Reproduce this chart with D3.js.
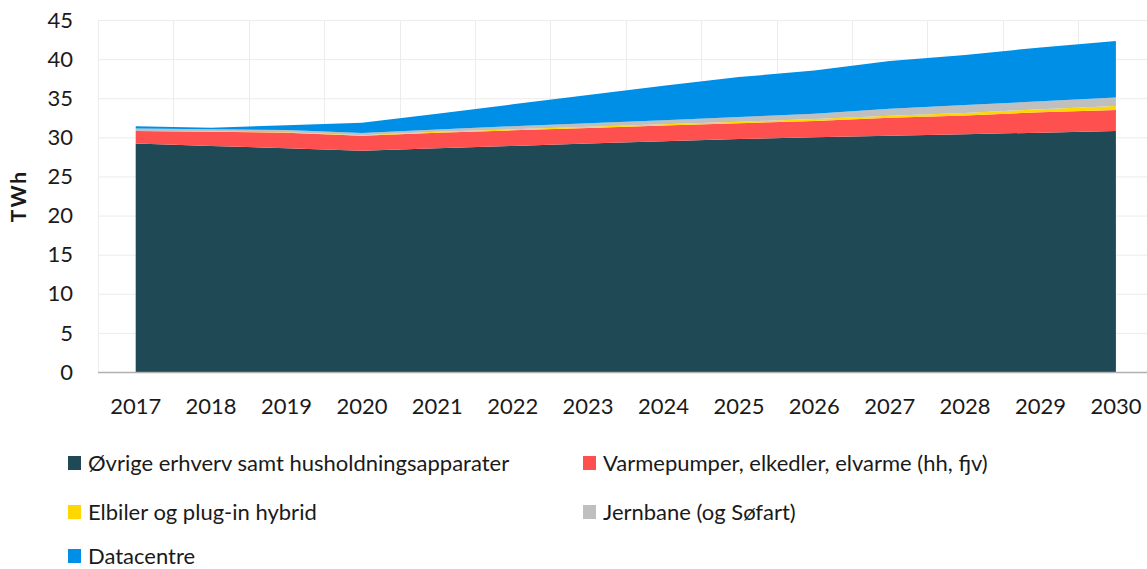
<!DOCTYPE html>
<html>
<head>
<meta charset="utf-8">
<script src="https://cdn.jsdelivr.net/npm/d3@7"></script>
<style>
body { margin: 0; background: #fff; }
text { font-family: Lato, "Open Sans", sans-serif; fill: #1a1a1a; }
</style>
</head>
<body>
<script>
var years = ["2017","2018","2019","2020","2021","2022","2023","2024","2025","2026","2027","2028","2029","2030"];

var ovrige     = [29.2, 28.9, 28.6, 28.3, 28.6, 28.9, 29.2, 29.5, 29.8, 30.0, 30.2, 30.4, 30.6, 30.8];
var varmepumper = [1.6, 1.8, 2.0, 1.9, 2.0, 2.0, 2.0, 2.0, 2.0, 2.1, 2.3, 2.4, 2.6, 2.7];
var elbiler    = [0.02, 0.03, 0.05, 0.07, 0.1, 0.12, 0.15, 0.18, 0.2, 0.23, 0.27, 0.32, 0.4, 0.5];
var jernbane   = [0.3, 0.3, 0.3, 0.3, 0.3, 0.4, 0.45, 0.5, 0.6, 0.7, 0.9, 1.0, 1.0, 1.1];
var datacentre = [0.3, 0.2, 0.6, 1.3, 2.0, 2.8, 3.6, 4.4, 5.1, 5.5, 6.1, 6.4, 6.9, 7.2];

var seriesNames = ["Øvrige erhverv samt husholdningsapparater", "Varmepumper, elkedler, elvarme (hh, fjv)",
  "Elbiler og plug-in hybrid", "Jernbane (og Søfart)", "Datacentre"];
var colors = ["#1f4a55", "#ff5050", "#ffd700", "#bfbfbf", "#008fe6"];
var yTicks = [0, 5, 10, 15, 20, 25, 30, 35, 40, 45];

var width = 1147, height = 569;
var margin = {top: 20, left: 98, bottom: 372};

var table = years.map(function (y, i) {
  return {year: y, s0: ovrige[i], s1: varmepumper[i], s2: elbiler[i], s3: jernbane[i], s4: datacentre[i]};
});
var stack = d3.stack().keys(["s0", "s1", "s2", "s3", "s4"]);
var layers = stack(table);

var svg = d3.select("body").append("svg")
  .attr("width", width).attr("height", height);

// band scale so gridlines sit between categories
var xBand = d3.scaleBand().domain(years).range([margin.left, margin.left + 75.4 * years.length]);
var x = function (y) { return xBand(y) + xBand.bandwidth() / 2; };

var y = d3.scaleLinear().domain([0, 45]).range([margin.bottom, margin.top]);

// gridlines
svg.append("g").selectAll("line.h")
  .data(yTicks.slice(1))
  .enter().append("line")
  .attr("x1", margin.left).attr("x2", width)
  .attr("y1", function (d) { return y(d) + 0.5; })
  .attr("y2", function (d) { return y(d) + 0.5; })
  .attr("stroke", "#ececec").attr("stroke-width", 1);

svg.append("g").selectAll("line.v")
  .data(years)
  .enter().append("line")
  .attr("x1", function (d) { return Math.round(xBand(d)) + 0.5; })
  .attr("x2", function (d) { return Math.round(xBand(d)) + 0.5; })
  .attr("y1", y(45)).attr("y2", y(0))
  .attr("stroke", "#ececec").attr("stroke-width", 1);

// areas
var area = d3.area()
  .x(function (d) { return x(d.data.year); })
  .y0(function (d) { return y(d[0]); })
  .y1(function (d) { return y(d[1]); });

svg.append("g").selectAll("path")
  .data(layers)
  .enter().append("path")
  .attr("d", area)
  .attr("fill", function (d, i) { return colors[i]; });

// x axis line
svg.append("line")
  .attr("x1", margin.left).attr("x2", width)
  .attr("y1", y(0) + 0.5).attr("y2", y(0) + 0.5)
  .attr("stroke", "#b0b0b0").attr("stroke-width", 1.5);

// y tick labels
svg.append("g").selectAll("text")
  .data(yTicks)
  .enter().append("text")
  .attr("x", 73)
  .attr("y", function (d) { return y(d); })
  .attr("dy", "0.35em")
  .attr("text-anchor", "end")
  .style("font-size", "22px")
  .text(function (d) { return d; });

// x tick labels
svg.append("g").selectAll("text")
  .data(years)
  .enter().append("text")
  .attr("x", function (d) { return x(d); })
  .attr("y", 414)
  .attr("text-anchor", "middle")
  .style("font-size", "22px")
  .text(function (d) { return d; });

// y axis title
svg.append("text")
  .attr("transform", "translate(26,196) rotate(-90)")
  .attr("text-anchor", "middle")
  .style("font-size", "21px")
  .style("font-weight", "bold")
  .style("letter-spacing", "2px")
  .text("TWh");

// legend
var legendPos = [[68, 463], [583, 463], [68, 512], [583, 512], [68, 556]];
var legend = svg.append("g").selectAll("g")
  .data(seriesNames)
  .enter().append("g")
  .attr("transform", function (d, i) { return "translate(" + legendPos[i][0] + "," + legendPos[i][1] + ")"; });

legend.append("rect")
  .attr("x", 0).attr("y", -7)
  .attr("width", 13).attr("height", 14)
  .attr("fill", function (d, i) { return colors[i]; });

legend.append("text")
  .attr("x", 20)
  .attr("y", 0)
  .attr("dy", "0.35em")
  .style("font-size", "22px")
  .text(function (d) { return d; });
</script>
</body>
</html>
